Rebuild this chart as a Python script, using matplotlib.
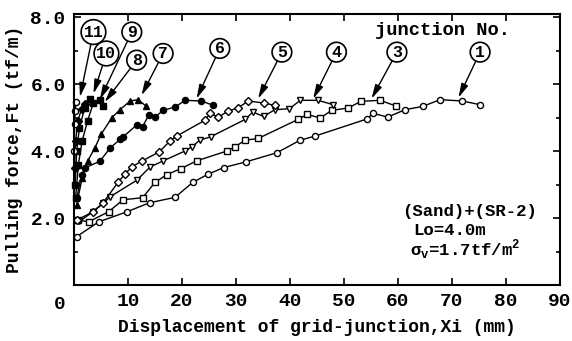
import matplotlib.pyplot as plt
import numpy as np

plt.rcParams['font.family'] = ['Liberation Mono', 'DejaVu Sans Mono']
plt.rcParams['font.weight'] = 'bold'

# junction 1 (open circles)
x1 = [0.5, 4.6, 9.8, 14.0, 18.7, 22.0, 24.8, 27.7, 31.8, 37.5, 41.9, 44.6, 54.2, 55.4, 58.1, 61.3, 64.6, 67.8, 71.9, 75.2]
y1 = [1.45, 1.89, 2.19, 2.46, 2.62, 3.07, 3.31, 3.51, 3.68, 3.95, 4.33, 4.45, 4.96, 5.13, 5.02, 5.24, 5.34, 5.54, 5.50, 5.39]
# junction 3 (open squares)
x3 = [0.8, 2.7, 6.4, 9.1, 12.7, 15.0, 17.2, 19.8, 22.7, 28.4, 29.8, 31.7, 34.1, 41.5, 43.2, 45.6, 47.7, 50.8, 53.1, 56.7, 59.6]
y3 = [1.94, 1.89, 2.19, 2.55, 2.61, 3.07, 3.30, 3.48, 3.71, 4.01, 4.13, 4.33, 4.38, 4.95, 5.10, 4.99, 5.22, 5.29, 5.49, 5.52, 5.35]
# junction 4 (open triangles)
x4 = [1.0, 3.5, 5.4, 6.7, 11.6, 14.1, 16.5, 20.6, 21.8, 23.3, 25.3, 31.7, 33.1, 35.1, 37.2, 39.9, 41.9, 45.2, 48.0]
y4 = [1.90, 2.19, 2.44, 2.64, 3.13, 3.53, 3.71, 4.01, 4.13, 4.33, 4.43, 4.95, 5.17, 5.04, 5.24, 5.27, 5.52, 5.52, 5.39]
# junction 5 (open diamonds)
x5 = [0.5, 3.5, 5.4, 8.2, 9.4, 10.7, 12.5, 15.8, 17.8, 19.0, 24.3, 25.2, 26.7, 28.6, 30.4, 32.3, 35.1, 37.2]
y5 = [1.94, 2.19, 2.46, 3.08, 3.31, 3.53, 3.70, 3.98, 4.31, 4.45, 4.93, 5.13, 5.02, 5.20, 5.30, 5.50, 5.44, 5.37]
# junction 6 (filled circles)
x6 = [0.5, 1.4, 2.0, 4.8, 6.7, 8.5, 9.1, 11.6, 12.7, 13.8, 15.0, 16.5, 18.7, 20.6, 23.6, 25.8]
y6 = [2.60, 3.30, 3.50, 3.70, 4.10, 4.35, 4.43, 4.78, 4.73, 5.07, 5.02, 5.22, 5.32, 5.52, 5.50, 5.37]
# junction 7 (filled triangles)
x7 = [0.5, 1.5, 2.5, 3.9, 5.0, 7.0, 8.5, 10.4, 11.9, 13.3]
y7 = [2.40, 3.20, 3.70, 4.11, 4.50, 5.00, 5.24, 5.50, 5.54, 5.35]
# junction 8 (filled squares)
x8 = [0.3, 0.8, 1.5, 2.5, 3.6, 4.8, 5.3]
y8 = [2.60, 3.60, 4.30, 4.90, 5.45, 5.52, 5.34]
# junction 9
x9 = [0.2, 0.5, 1.0, 2.0, 3.0]
y9 = [3.00, 4.00, 4.70, 5.30, 5.57]
# junction 10
x10 = [0.1, 0.3, 0.7, 1.4, 2.0]
y10 = [3.50, 4.30, 4.90, 5.27, 5.40]
# junction 11 (open circles)
x11 = [0.0, 0.1, 0.2, 0.4]
y11 = [4.00, 4.80, 5.20, 5.47]

# circled labels: text, label position, arrow tip
etiquetas = ['11', '10', '9', '8', '7', '6', '5', '4', '3', '1']
pos_etiqueta = [(3.6, 7.56), (6.0, 6.92), (10.7, 7.56), (11.6, 6.72), (16.5, 6.92),
                (27.0, 7.07), (38.5, 6.96), (48.6, 6.96), (59.8, 6.96), (75.2, 6.96)]
pos_seta = [(1.1, 5.62), (3.6, 5.72), (4.8, 5.55), (5.7, 5.47), (12.5, 5.67),
            (22.7, 5.57), (34.1, 5.57), (44.3, 5.57), (55.1, 5.57), (71.2, 5.60)]

fig = plt.figure(figsize=(5.72, 3.41), dpi=100)
ax = fig.add_axes([0.1294, 0.164, 0.8496, 0.795])

series = [
    (x1, y1, 'o', 'white'), (x3, y3, 's', 'white'), (x4, y4, 'v', 'white'),
    (x5, y5, 'D', 'white'), (x6, y6, 'o', 'black'), (x7, y7, '^', 'black'),
    (x8, y8, 's', 'black'), (x9, y9, 's', 'black'), (x10, y10, 'D', 'black'),
    (x11, y11, 'o', 'white'),
]
for xs, ys, mk, fc in series:
    ms = 4.0 if mk == 'D' else 4.4
    ax.plot(xs, ys, color='black', linewidth=1.0, marker=mk, markersize=ms,
            markerfacecolor=fc, markeredgecolor='black', markeredgewidth=1.0, clip_on=False)

for txt, (lx, ly), (tx, ty) in zip(etiquetas, pos_etiqueta, pos_seta):
    ax.annotate(txt, xy=(tx, ty), xytext=(lx, ly), ha='center', va='center',
                fontsize=12, fontweight='bold',
                bbox=dict(boxstyle='circle,pad=0.14', fc='white', ec='black', lw=1.2),
                arrowprops=dict(arrowstyle='-|>,head_length=0.7,head_width=0.18',
                                color='black', lw=1.0, shrinkA=0, shrinkB=0))

ax.text(68.3, 7.61, 'junction No.', ha='center', va='center', fontsize=13.5, fontweight='bold')
ax.text(60.7, 2.19, '(Sand)+(SR-2)', ha='left', va='center', fontsize=12.5, fontweight='bold')
ax.text(62.8, 1.62, 'Lo=4.0m', ha='left', va='center', fontsize=12.5, fontweight='bold')
ax.text(62.2, 1.05, r'σ$_\mathregular{v}$=1.7tf/m$^\mathregular{2}$', ha='left', va='center',
        fontsize=12.5, fontweight='bold')

ax.set_xlim(0, 90)
ax.set_ylim(0, 8.1)
ax.set_xticks(np.arange(10, 91, 10))
ax.set_xticklabels([str(v) for v in range(10, 91, 10)])
ax.set_yticks([2, 4, 6, 8])
ax.set_yticklabels(['2.0', '4.0', '6.0', '8.0'])
ax.set_yticks(np.arange(1, 8, 1), minor=True)
ax.tick_params(axis='both', which='both', direction='in', top=True, right=True,
               labelsize=14, width=1.2)
ax.tick_params(axis='x', which='major', length=5, pad=6)
ax.tick_params(axis='y', which='major', length=5, pad=6)
ax.tick_params(axis='y', which='minor', length=3)
ax.text(-0.03, -0.04, '0', transform=ax.transAxes, ha='center', va='top', fontsize=14, fontweight='bold')

for lado in ax.spines.values():
    lado.set_linewidth(1.5)

ax.set_xlabel('Displacement of grid-junction,Xi (mm)', fontsize=13, fontweight='bold', labelpad=6)
ax.set_ylabel('Pulling force,Ft (tf/m)', fontsize=13, fontweight='bold', labelpad=5)

fig.savefig('out.png', dpi=100)
